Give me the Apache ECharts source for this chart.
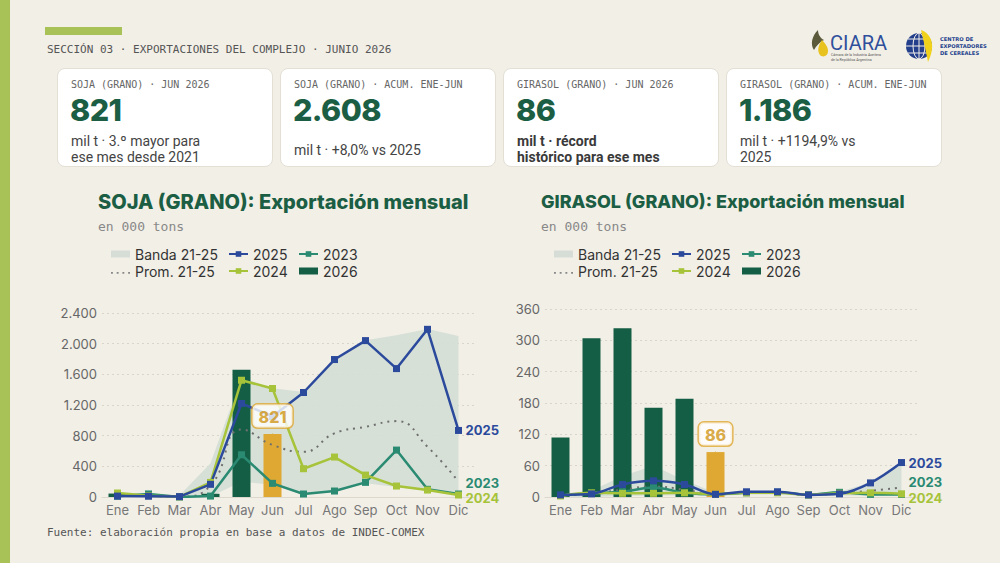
<!DOCTYPE html>
<html><head><meta charset="utf-8">
<script src="https://cdn.jsdelivr.net/npm/echarts@6/dist/echarts.min.js"></script>
<style>
html,body{margin:0;padding:0;width:1000px;height:563px;overflow:hidden;background:#f2efe7;font-family:Inter,Roboto,sans-serif;}
.abs{position:absolute;}
.mono{font-family:"DejaVu Sans Mono","Liberation Mono",monospace;}
#stripe{left:0;top:0;width:10px;height:563px;background:#a9c257;}
#accent{left:45px;top:27px;width:77px;height:8px;background:#a9c257;}
#sec{left:47px;top:43px;font-size:11px;color:#555;white-space:nowrap;}
.card{position:absolute;top:68px;height:99px;width:216px;background:#fff;border:1px solid #e3dfd5;border-radius:8px;box-sizing:border-box;}
.card .lbl{position:absolute;left:13px;top:10px;font-size:10px;color:#666;white-space:nowrap;}
.card .val{position:absolute;left:12px;top:25px;font-size:30.5px;line-height:32px;font-weight:800;color:#1b5e44;letter-spacing:-0.6px;}
.card .sub{position:absolute;left:13px;font-size:14px;line-height:16px;color:#444;white-space:nowrap;font-family:"Liberation Sans Narrow","Roboto",sans-serif;}
.ttl{font-weight:800;color:#1b5e44;white-space:nowrap;}
.subt{font-size:13px;color:#888;white-space:nowrap;}
#foot{left:47px;top:526px;font-size:11px;color:#555;white-space:nowrap;}
#chart{position:absolute;left:0;top:0;width:1000px;height:563px;}
</style></head>
<body>
<div id="stripe" class="abs"></div>
<div id="accent" class="abs"></div>
<div id="sec" class="abs mono">SECCIÓN 03 · EXPORTACIONES DEL COMPLEJO · JUNIO 2026</div>

<svg class="abs" style="left:808px;top:26px" width="190" height="42" viewBox="0 0 190 42">
  <path d="M10 4 C4 10 2 18 6 24 C8 20 12 16 16 14 C12 12 10 8 10 4Z" fill="#5b5a3a"/>
  <path d="M14 14 C10 20 9 25 12 29 C15 32 20 30 20 25 C20 21 17 17 14 14Z" fill="#e8c21f"/>
  <text x="22" y="24" font-family="Roboto,Arial,sans-serif" font-size="20" fill="#2f4f9c">CIARA</text>
  <text x="23" y="30" font-family="Roboto,Arial,sans-serif" font-size="3.6" fill="#555">Cámara de la Industria Aceitera</text>
  <text x="23" y="35" font-family="Roboto,Arial,sans-serif" font-size="3.6" fill="#555">de la República Argentina</text>
  <circle cx="111" cy="20" r="13" fill="#233f8c"/>
  <path d="M98 20 H124 M111 7 V33 M100 13 H122 M100 27 H122" stroke="#f2efe7" stroke-width="1"/>
  <ellipse cx="111" cy="20" rx="6" ry="13" fill="none" stroke="#f2efe7" stroke-width="1"/>
  <path d="M113 4 C124 8 128 20 120 36 C118 26 116 16 113 4Z" fill="#f0d21c"/>
  <text x="132" y="15" font-family="DejaVu Sans,Arial,sans-serif" font-weight="bold" font-size="5.2" fill="#233f8c">CENTRO DE</text>
  <text x="132" y="22" font-family="DejaVu Sans,Arial,sans-serif" font-weight="bold" font-size="5.2" fill="#233f8c">EXPORTADORES</text>
  <text x="132" y="29" font-family="DejaVu Sans,Arial,sans-serif" font-weight="bold" font-size="5.2" fill="#233f8c">DE CEREALES</text>
</svg>

<div class="card" style="left:57px">
  <div class="lbl mono">SOJA (GRANO) · JUN 2026</div>
  <div class="val">821</div>
  <div class="sub" style="top:64px">mil t · 3.º mayor para<br>ese mes desde 2021</div>
</div>
<div class="card" style="left:280px">
  <div class="lbl mono">SOJA (GRANO) · ACUM. ENE-JUN</div>
  <div class="val">2.608</div>
  <div class="sub" style="top:73px">mil t · +8,0% vs 2025</div>
</div>
<div class="card" style="left:503px">
  <div class="lbl mono">GIRASOL (GRANO) · JUN 2026</div>
  <div class="val">86</div>
  <div class="sub" style="top:64px;font-weight:bold;color:#3a3a3a">mil t · récord<br>histórico para ese mes</div>
</div>
<div class="card" style="left:726px">
  <div class="lbl mono">GIRASOL (GRANO) · ACUM. ENE-JUN</div>
  <div class="val">1.186</div>
  <div class="sub" style="top:64px">mil t · +1194,9% vs<br>2025</div>
</div>

<div class="abs ttl" style="left:98px;top:190px;font-size:20px">SOJA (GRANO): Exportación mensual</div>
<div class="abs subt mono" style="left:98px;top:219px">en 000 tons</div>
<div class="abs ttl" style="left:541px;top:191px;font-size:18px">GIRASOL (GRANO): Exportación mensual</div>
<div class="abs subt mono" style="left:541px;top:219px">en 000 tons</div>

<div id="foot" class="abs mono">Fuente: elaboración propia en base a datos de INDEC-COMEX</div>

<div id="chart"></div>
<script>
const months = ['Ene','Feb','Mar','Abr','May','Jun','Jul','Ago','Sep','Oct','Nov','Dic'];

// SOJA (GRANO), miles de toneladas
const soy2026 = [45, 35, 5, 42, 1660, 821];
const soy2025 = [12, 10, 5, 165, 1220, 1050, 1363, 1793, 2040, 1675, 2187, 868];
const soy2024 = [52, 17, 3, 190, 1523, 1415, 369, 521, 286, 143, 91, 26];
const soy2023 = [10, 40, 0, 12, 551, 178, 39, 78, 191, 612, 100, 39];
const soyBandMin = [0, 0, 0, 8, 200, 160, 35, 70, 180, 130, 80, 20];
const soyBandMax = [60, 45, 20, 440, 1560, 1420, 1370, 1800, 2045, 2110, 2190, 2100];
const soyAvg = [20, 15, 5, 150, 880, 680, 590, 830, 915, 990, 655, 200];

// GIRASOL (GRANO), miles de toneladas
const gir2026 = [114, 304, 323, 171, 188, 86];
const gir2025 = [4, 6, 24, 31, 24, 5, 10, 10, 4, 6, 27, 66];
const gir2024 = [2, 8, 7, 7, 8, 5, 8, 8, 4, 7, 8, 6];
const gir2023 = [3, 7, 10, 18, 8, 5, 8, 9, 4, 9, 5, 5];
const girBandMin = [0, 0, 2, 3, 3, 2, 5, 5, 2, 3, 3, 3];
const girBandMax = [6, 12, 40, 60, 32, 8, 12, 12, 6, 10, 28, 66];
const girAvg = [3, 6, 14, 20, 14, 5, 9, 9, 4, 7, 12, 18];

const soyTicks = [0, 2400, 400];
const girTicks = [0, 360, 60];

const C = {
  y2025:'#2c4a9c', y2024:'#a6c33a', y2023:'#2a8a72', y2026:'#145e45',
  hi:'#dea832', band:'#d4ded6', avg:'#6f6f6f'
};
const HL = 5; // índice del mes destacado (Jun)

function fmt(v){ return String(v).replace(/\B(?=(\d{3})+(?!\d))/g,'.'); }

function lineS(name, data, color, xi, smooth, offY){
  return {type:'line', name, data, xAxisIndex:xi, yAxisIndex:xi, smooth, z:5,
    symbol:'rect', symbolSize:7, color, itemStyle:{color}, lineStyle:{width:2.5,color},
    emphasis:{disabled:true},
    endLabel:{show:true, formatter:'{a}', color, fontWeight:'bold', fontSize:13, lineHeight:11,
      fontFamily:'Inter', distance:7, offset:[0, offY]}};
}
function chartSeries(xi, d2026, d2025, d2024, d2023, bmin, bmax, avg, smooth, off23, off24){
  return [
    {type:'line', name:'bandBase', data:bmin, stack:'band'+xi, xAxisIndex:xi, yAxisIndex:xi,
      symbol:'none', lineStyle:{opacity:0}, silent:true, z:1},
    {type:'line', name:'Banda 21-25', data:bmax.map((v,i)=>v-bmin[i]), stack:'band'+xi,
      xAxisIndex:xi, yAxisIndex:xi, symbol:'none', color:C.band, itemStyle:{color:C.band},
      lineStyle:{opacity:0}, areaStyle:{color:C.band, opacity:0.95}, silent:true, z:1},
    {type:'bar', name:'2026', xAxisIndex:xi, yAxisIndex:xi, barWidth:18, z:2, color:C.y2026,
      itemStyle:{color:C.y2026},
      data:d2026.map((v,i)=> i===HL ? {value:v, itemStyle:{color:C.hi}} : v)},
    {type:'line', name:'Prom. 21-25', data:avg, xAxisIndex:xi, yAxisIndex:xi, smooth:true,
      symbol:'none', color:C.avg, lineStyle:{color:C.avg, width:2, type:[2,5]}, z:3},
    lineS('2023', d2023, C.y2023, xi, smooth, off23),
    lineS('2024', d2024, C.y2024, xi, smooth, off24),
    lineS('2025', d2025, C.y2025, xi, smooth, 0),
    {type:'scatter', name:'lbl', xAxisIndex:xi, yAxisIndex:xi, z:10, silent:true,
      symbol:'rect', symbolSize:1, itemStyle:{color:C.hi},
      data:[[HL, d2026[HL]]],
      label:{show:true, position:'top', distance:6, formatter:(p)=>fmt(p.value[1]),
        color:'#d09518', fontWeight:800, fontSize:16, fontFamily:'Inter',
        backgroundColor:'#ffffff', borderColor:C.hi, borderWidth:1.5, borderRadius:5,
        padding:[4,6,3,6]}}
  ];
}

const dotIcon = 'path://M0,4h2v2h-2z M6,4h2v2h-2z M12,4h2v2h-2z M18,4h2v2h-2z M0,0h0.01v0.01h-0.01z';
function legendCol(left, names){
  return {orient:'vertical', left, top:242, itemWidth:19, itemHeight:7, itemGap:3,
    selectedMode:false, textStyle:{fontSize:14, color:'#333', lineHeight:14, fontFamily:'Inter'},
    data:names};
}
const col1 = [{name:'Banda 21-25', icon:'rect', itemStyle:{color:'#d6ddd6'}},
              {name:'Prom. 21-25', icon:dotIcon, itemStyle:{color:'#888'}}];
const col2 = ['2025','2024'];
const col3 = ['2023', {name:'2026', icon:'rect'}];

function xAx(gi){
  return {type:'category', gridIndex:gi, data:months, boundaryGap:true,
    axisTick:{show:false}, axisLine:{lineStyle:{color:'#dcd8ce'}},
    axisLabel:{color:'#777', fontSize:13, margin:6, interval:0, fontFamily:'Inter'}};
}
function yAx(gi, t, formatter){
  return {type:'value', gridIndex:gi, min:t[0], max:t[1], interval:t[2],
    axisLine:{show:false}, axisTick:{show:false},
    axisLabel:{color:'#666', fontSize:13, margin:5, fontFamily:'Inter', formatter},
    splitLine:{lineStyle:{color:'#d9d5cb', type:[2,3]}}};
}

const chart = echarts.init(document.getElementById('chart'), null, {renderer:'svg'});
chart.setOption({
  animation:false,
  backgroundColor:'transparent',
  textStyle:{fontFamily:'Inter'},
  grid:[
    {left:102, right:526, top:313, bottom:66},
    {left:545, right:83, top:309, bottom:66}
  ],
  legend:[
    legendCol(106, col1), legendCol(223, col2), legendCol(293, col3),
    legendCol(549, col1), legendCol(666, col2), legendCol(736, col3)
  ],
  xAxis:[xAx(0), xAx(1)],
  yAxis:[yAx(0, soyTicks, fmt), yAx(1, girTicks, fmt)],
  series:[
    ...chartSeries(0, soy2026, soy2025, soy2024, soy2023, soyBandMin, soyBandMax, soyAvg, false, -11, 3),
    ...chartSeries(1, gir2026, gir2025, gir2024, gir2023, girBandMin, girBandMax, girAvg, 0.35, -12, 4)
  ]
});
</script>
</body></html>
